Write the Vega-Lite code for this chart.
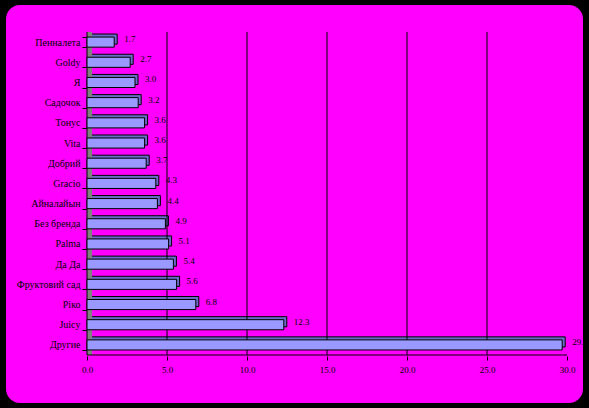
{
  "$schema": "https://vega.github.io/schema/vega-lite/v6.json",
  "width": 577,
  "height": 398,
  "autosize": {"type": "none"},
  "padding": {"left": 6, "top": 5, "right": 6, "bottom": 5},
  "background": "#000000",
  "config": {
    "view": {"fill": "#ff00ff", "stroke": null, "cornerRadius": 14},
    "font": "Liberation Serif"
  },
  "datasets": {
    "brands": [
      {"brand": "Пенналета", "share": 1.7},
      {"brand": "Goldy", "share": 2.7},
      {"brand": "Я", "share": 3.0},
      {"brand": "Садочок", "share": 3.2},
      {"brand": "Тонус", "share": 3.6},
      {"brand": "Vita", "share": 3.6},
      {"brand": "Добрий", "share": 3.7},
      {"brand": "Gracio", "share": 4.3},
      {"brand": "Айналайын", "share": 4.4},
      {"brand": "Без бренда", "share": 4.9},
      {"brand": "Palma", "share": 5.1},
      {"brand": "Да Да", "share": 5.4},
      {"brand": "Фруктовий сад", "share": 5.6},
      {"brand": "Ріко", "share": 6.8},
      {"brand": "Juicy", "share": 12.3},
      {"brand": "Другие", "share": 29.7}
    ],
    "grid": [{"v": 5}, {"v": 10}, {"v": 15}, {"v": 20}, {"v": 25}],
    "one": [{"k": 1}]
  },
  "layer": [
    {
      "data": {"name": "brands"},
      "mark": {"type": "bar", "fill": "#6a6ac8", "stroke": "#000000", "strokeWidth": 1, "xOffset": 3, "yOffset": -3},
      "encoding": {
        "x": {"field": "share", "type": "quantitative", "scale": {"type": "linear", "domain": [-5.0625, 31], "nice": false, "zero": false}, "axis": {"offset": -47, "values": [0, 5, 10, 15, 20, 25, 30], "format": ".1f", "domain": false, "grid": false, "ticks": true, "tickSize": 4, "tickColor": "#000000", "labelFont": "Liberation Serif", "labelFontSize": 9, "labelColor": "#000000", "labelPadding": 5, "title": null}},
        "y": {"field": "brand", "type": "nominal", "sort": null, "scale": {"type": "band", "domain": ["Пенналета", "Goldy", "Я", "Садочок", "Тонус", "Vita", "Добрий", "Gracio", "Айналайын", "Без бренда", "Palma", "Да Да", "Фруктовий сад", "Ріко", "Juicy", "Другие"], "range": [27, 350], "paddingInner": 0.5, "paddingOuter": 0.25}, "axis": {"offset": -81, "domain": false, "grid": false, "ticks": true, "tickBand": "extent", "tickSize": 5, "tickColor": "#000000", "labelFont": "Liberation Serif", "labelFontSize": 10, "labelColor": "#000000", "labelPadding": 2, "title": null}}
      }
    },
    {
      "data": {"name": "grid"},
      "mark": {"type": "rule", "color": "#000000", "strokeWidth": 1},
      "encoding": {
        "x": {"field": "v", "type": "quantitative"},
        "y": {"datum": "Пенналета", "type": "nominal", "bandPosition": -0.5},
        "y2": {"datum": "Другие", "bandPosition": 1.5}
      }
    },
    {
      "data": {"name": "one"},
      "mark": {"type": "rect", "fill": "#808080"},
      "encoding": {
        "x": {"datum": 0, "type": "quantitative"},
        "x2": {"datum": 0.32},
        "y": {"datum": "Пенналета", "type": "nominal", "bandPosition": -0.5},
        "y2": {"datum": "Другие", "bandPosition": 1.5}
      }
    },
    {
      "data": {"name": "one"},
      "mark": {"type": "rule", "color": "#000000", "strokeWidth": 1},
      "encoding": {
        "x": {"datum": 0, "type": "quantitative"},
        "y": {"datum": "Пенналета", "type": "nominal", "bandPosition": -0.5},
        "y2": {"datum": "Другие", "bandPosition": 1.5}
      }
    },
    {
      "data": {"name": "one"},
      "mark": {"type": "rule", "color": "#000000", "strokeWidth": 1},
      "encoding": {
        "x": {"datum": 0, "type": "quantitative"},
        "x2": {"datum": 30},
        "y": {"datum": "Другие", "type": "nominal", "bandPosition": 1.5}
      }
    },
    {
      "data": {"name": "brands"},
      "mark": {"type": "bar", "fill": "#9999ff", "stroke": "#000000", "strokeWidth": 1},
      "encoding": {
        "x": {"field": "share", "type": "quantitative"},
        "y": {"field": "brand", "type": "nominal", "sort": null}
      }
    },
    {
      "data": {"name": "brands"},
      "mark": {"type": "text", "align": "left", "baseline": "middle", "dx": 10, "dy": -3, "fontSize": 9, "font": "Liberation Serif", "color": "#000000"},
      "encoding": {
        "x": {"field": "share", "type": "quantitative"},
        "y": {"field": "brand", "type": "nominal", "sort": null},
        "text": {"field": "share", "type": "quantitative", "format": ".1f"}
      }
    }
  ]
}
